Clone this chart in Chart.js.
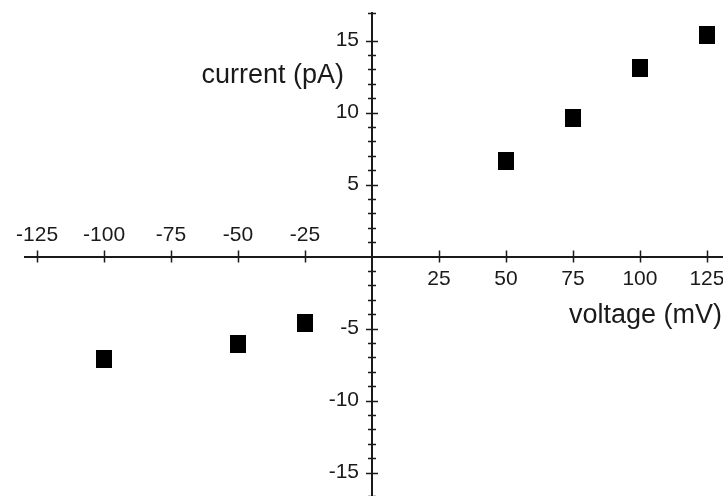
<!DOCTYPE html>
<html>
<head>
<meta charset="utf-8">
<script src="https://cdn.jsdelivr.net/npm/chart.js@4/dist/chart.umd.min.js"></script>
<style>
  html, body { margin: 0; padding: 0; background: #fff; }
  #wrap { width: 723px; height: 496px; position: relative; }
</style>
</head>
<body>
<div id="wrap"><canvas id="c"></canvas></div>
<script>
// ---- data ----
const voltage = [-100, -50, -25, 50, 75, 100, 125];      // mV
const current = [-7.1, -6.1, -4.6, 6.6, 9.6, 13.1, 15.4]; // pA
const xTickValues = [-125, -100, -75, -50, -25, 25, 50, 75, 100, 125];
const yLabelValues = [-15, -10, -5, 5, 10, 15];
const xTitle = 'voltage (mV)';
const yTitle = 'current (pA)';

const FONT = "'Liberation Sans', Arial, Helvetica, sans-serif";
const INK = '#1a1a1a';
const X_MIN = -129.5, X_MAX = 131, Y_MIN = -16.63, Y_MAX = 16.91;

// square marker (slightly taller than wide, as in the reference)
const marker = document.createElement('canvas');
marker.width = 16; marker.height = 18;
(function () { const g = marker.getContext('2d'); g.fillStyle = '#000'; g.fillRect(0, 0, 16, 18); })();

function fixTicks(values) {
  return function (scale) { scale.ticks = values.map(v => ({ value: v })); };
}
function noPad(scale) {
  scale.paddingLeft = 0; scale.paddingRight = 0; scale.paddingTop = 0; scale.paddingBottom = 0;
}

const crossTicks = {
  id: 'crossTicks',
  afterDraw(chart) {
    const ctx = chart.ctx;
    const xs = chart.scales.x, ys = chart.scales.y;
    const x0 = xs.getPixelForValue(0), y0 = ys.getPixelForValue(0);
    ctx.save();
    ctx.strokeStyle = INK;
    ctx.lineWidth = 1.5;
    ctx.beginPath();
    xTickValues.forEach(v => {
      const px = Math.round(xs.getPixelForValue(v)) + 0.5;
      ctx.moveTo(px, y0 - 6); ctx.lineTo(px, y0 + 6);
    });
    ys.ticks.forEach(t => {
      if (t.value === 0) return;
      const py = Math.round(ys.getPixelForValue(t.value)) + 0.5;
      const half = (t.value % 5 === 0) ? 6 : 4;
      ctx.moveTo(x0 - half, py); ctx.lineTo(x0 + half, py);
    });
    ctx.stroke();
    ctx.fillStyle = INK;
    ctx.font = '27px ' + FONT;
    ctx.textBaseline = 'alphabetic';
    ctx.textAlign = 'right';
    ctx.fillText(yTitle, x0 - 28, y0 - 173.5);
    ctx.fillText(xTitle, chart.width - 1, y0 + 66.5);
    ctx.restore();
  }
};

new Chart(document.getElementById('c'), {
  type: 'scatter',
  data: {
    datasets: [{
      data: voltage.map((v, i) => ({ x: v, y: current[i] })),
      pointStyle: marker,
      backgroundColor: '#000',
      borderColor: '#000',
      pointRadius: 9,
      clip: false
    }]
  },
  options: {
    responsive: true,
    maintainAspectRatio: false,
    animation: false,
    events: [],
    layout: { autoPadding: false, padding: { top: 13, left: 25, right: 0, bottom: 0 } },
    plugins: { legend: { display: false }, tooltip: { enabled: false } },
    scales: {
      x: {
        type: 'linear', min: X_MIN, max: X_MAX,
        position: { y: 0 },
        grid: { display: false },
        border: { display: true, color: INK, width: 2 },
        afterBuildTicks: fixTicks(xTickValues),
        afterFit: noPad,
        ticks: {
          autoSkip: false, maxRotation: 0, padding: 2.5,
          color: INK, font: { family: FONT, size: 21 },
          callback: v => (v > 0 ? String(v) : '')
        }
      },
      xTop: {
        type: 'linear', min: X_MIN, max: X_MAX, axis: 'x',
        position: { y: 0 },
        grid: { display: false },
        border: { display: false },
        afterBuildTicks: fixTicks(xTickValues),
        afterFit: noPad,
        ticks: {
          autoSkip: false, maxRotation: 0, padding: -41.5,
          color: INK, font: { family: FONT, size: 21 },
          callback: v => (v < 0 ? String(v) : '')
        }
      },
      y: {
        type: 'linear', min: Y_MIN, max: Y_MAX,
        position: { x: 0 },
        grid: { display: false },
        border: { display: true, color: INK, width: 2 },
        afterFit: noPad,
        ticks: { display: false, stepSize: 1, autoSkip: false }
      },
      yLab: {
        type: 'linear', min: Y_MIN, max: Y_MAX, axis: 'y',
        position: { x: -4.85 },
        grid: { display: false },
        border: { display: false },
        afterBuildTicks: fixTicks(yLabelValues),
        afterFit: noPad,
        ticks: {
          autoSkip: false, padding: 0,
          color: INK, font: { family: FONT, size: 21 },
          callback: v => String(v)
        }
      }
    }
  },
  plugins: [crossTicks]
});
</script>
</body>
</html>
